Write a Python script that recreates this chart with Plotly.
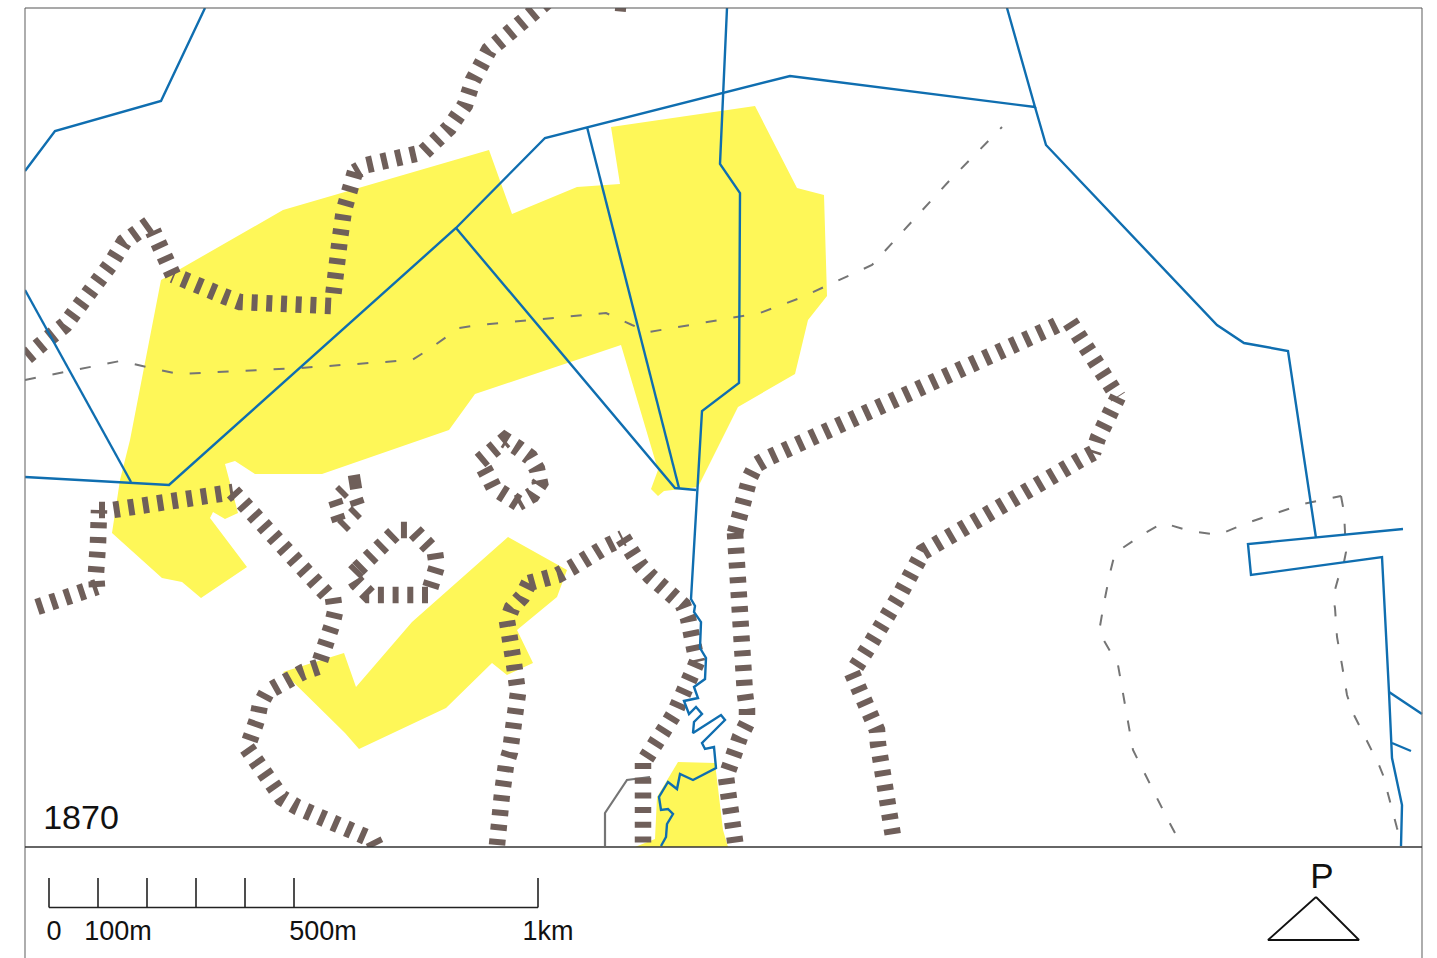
import plotly.graph_objects as go

# Map coordinates
meadow_a_x = [161,283,489,512,577,620,611,755,797,824,827,808,795,738,698,664,658,651,658,621,475,449,322,255,235,225,238,225,213,210,247,201,182,162,112,120,130]
meadow_a_y = [280,210,150,214,187,184,127,106,188,195,296,320,374,407,487,491,496,489,470,345,394,430,474,474,461,464,513,519,512,518,567,598,582,578,533,480,440]
meadow_b_x = [508,567,557,517,533,507,492,446,359,345,283,344,356,412]
meadow_b_y = [537,570,597,630,663,675,663,708,749,733,672,653,687,622]
meadow_c_x = [678,715,723,728,635,655,657]
meadow_c_y = [762,763,830,847,847,839,797]

water = [
    ([25,55,161,205], [171,131,101,8]),
    ([25,131], [290,482]),
    ([25,169,456,545,790,1035,1007], [477,485,228,138,76,107,8]),
    ([1035,1046,1217,1244,1288,1316], [107,145,325,343,351,538]),
    ([456,675,696], [228,488,490]),
    ([587,679], [127,488]),
    ([727,720,740,739,702,692,691,695,694,701,700,706,705,694,698,684,689,696,702,694,693,721,725,702,705,714,716,693,680,677,668,659,661,668,673,667,666,661],
     [8,164,193,383,411,580,599,606,612,622,648,658,679,687,698,701,714,707,714,722,733,715,720,743,749,747,768,780,774,789,782,797,810,809,814,824,837,846]),
    ([1403,1248,1251,1382,1389,1392,1402,1401], [529,544,575,557,692,758,805,846]),
    ([1389,1422], [692,714]),
    ([1392,1411], [743,751]),
]
track_x = [605,605,627,650]
track_y = [846,813,780,777]
path_1_x = [25,120,178,300,412,428,459,479,606,632,649,760,800,872,950,1002]
path_1_y = [380,361,374,368,360,350,328,325,313,325,332,313,298,265,180,127]
path_2_x = [1175,1168,1133,1128,1123,1118,1099,1104,1110,1115,1145,1163,1190,1218,1247,1303,1341]
path_2_y = [833,820,750,723,693,665,632,603,573,553,533,523,531,535,523,504,496]
path_3_x = [1341,1344,1346,1342,1338,1333,1335,1337,1342,1347,1353,1371,1379,1383,1390,1397,1400]
path_3_y = [496,512,552,572,579,597,608,637,665,695,713,748,765,775,803,828,838]

boundary = [
    ([546,532,510,489,473,465,449,436,424,367,355], [2,13,32,50,80,105,128,142,152,165,172]),
    ([355,346,344,340,336,333], [172,195,210,238,267,297]),
    ([331,314,240,226,173], [306,305,302,297,275]),
    ([173,167,161,153], [275,262,248,231]),
    ([149,124,110,89,77,65,44,25], [224,242,265,293,315,325,342,358]),
    ([37,80,97], [607,590,587]),
    ([97,96,98,100,99], [587,573,543,528,510]),
    ([99,113,233], [510,510,492]),
    ([233,242,330], [492,502,598]),
    ([333,335,332,327,322,318], [598,612,625,638,652,667]),
    ([318,303,267,260,257,253,247], [667,672,692,705,720,735,748]),
    ([247,258,267,275,282,297,373,378], [748,762,773,787,798,807,840,850]),
    ([480,493,505,518,530,537,540,532,518], [461,452,440,448,457,469,483,495,503]),
    ([518,507,494,488,480], [503,495,488,476,461]),
    ([358,368,377,388,398,413,425,435,437,432,428], [569,559,548,537,530,530,542,553,566,580,595]),
    ([428,411,396,382,369,357,352,358], [595,595,597,599,595,583,575,569]),
    ([497,498,502,506,510,514,518,514,509,507,512,522,529], [845,823,794,765,752,722,693,664,636,621,608,597,583]),
    ([529,543,558,571,582,594,607,623], [583,580,575,568,560,551,546,538]),
    ([623,631,640,650,661,672,683,688,691,693,697], [538,553,565,576,586,595,605,618,632,647,662]),
    ([697,692,688,683,674,666,658,651,643], [662,675,689,702,714,727,738,751,763]),
    ([643,643], [763,848]),
    ([735,736,736,737,738,740,742,743,745,747,747,740,735,729,726,728,731,733,735,736], [533,548,608,622,637,651,666,680,694,709,723,737,750,764,777,792,807,822,836,848]),
    ([735,738,744,746,750,756,768,1053,1063], [533,520,506,492,477,465,458,327,322]),
    ([1070,1079,1087,1095,1103,1110,1118], [322,335,347,360,373,385,397]),
    ([1118,1110,1103,1098,1093], [397,412,425,438,453]),
    ([1093,1080,923,913,905,898,868,861,852], [453,460,552,573,587,598,648,662,673]),
    ([852,858,863,872,877,878,880,883,885,887,889,892,893], [673,688,702,716,730,744,758,772,787,802,816,830,836]),
]
cross_stubs = [
    ([349,361], [483,481]),
    ([340,344], [494,490]),
    ([335,337], [500,506]),
    ([356,358], [499,505]),
    ([353,357], [515,511]),
    ([337,339], [515,521]),
    ([342,346], [527,523]),
]
top_fragment_x = [615,626]
top_fragment_y = [9,10]

year_label = "1870"
scale_ticks = [49,98,147,196,245,294,538]
scale_texts = ["0", "100m", "500m", "1km"]
scale_text_x = [54,118,323,548]
north_x = [1316,1268,1359,1316]
north_y = [897,940,940,897]

YELLOW = "#fef758"
BLUE = "#0f6eb0"
BROWN = "#6f5f5a"
GREY = "#757575"

fig = go.Figure()

def poly(x, y, color):
    fig.add_trace(go.Scatter(x=x, y=y, mode="lines", fill="toself", fillcolor=color,
                             line=dict(width=0, color=color), hoverinfo="skip"))

def line(x, y, color, width, dash="solid"):
    fig.add_trace(go.Scatter(x=x, y=y, mode="lines", hoverinfo="skip",
                             line=dict(color=color, width=width, dash=dash)))

poly(meadow_a_x, meadow_a_y, YELLOW)
poly(meadow_b_x, meadow_b_y, YELLOW)
poly(meadow_c_x, meadow_c_y, YELLOW)
line(track_x, track_y, GREY, 2.2)
for bx, by in boundary:
    line(bx, by, BROWN, 16.5, "6px,8.7px")
for sx, sy in cross_stubs:
    line(sx, sy, BROWN, 14)
line(top_fragment_x, top_fragment_y, BROWN, 4)
line(path_1_x, path_1_y, GREY, 2, "11px,17px")
line(path_2_x, path_2_y, GREY, 2, "11px,17px")
line(path_3_x, path_3_y, GREY, 2, "11px,17px")
for wx, wy in water:
    line(wx, wy, BLUE, 2.4)

# white outside the map panel hides thick line ends
poly([25,1422,1422,25], [847,847,958,958], "#ffffff")
poly([0,1437,1437,0], [0,0,8,8], "#ffffff")
poly([0,25,25,0], [0,0,958,958], "#ffffff")

# frame
line([25,25], [8,958], "#777777", 1.2)
line([1422,1422], [8,958], "#777777", 1.2)
line([25,1422], [8,8], "#555555", 1.2)
line([25,1422], [847,847], "#333333", 1.5)

# scale bar
line([scale_ticks[0], scale_ticks[-1]], [907.5,907.5], "#222222", 1.6)
for t in scale_ticks:
    line([t,t], [878,907.5], "#222222", 1.6)
fig.add_trace(go.Scatter(x=scale_text_x, y=[933]*4, mode="text", text=scale_texts,
                         textposition="middle center", hoverinfo="skip",
                         textfont=dict(family="Liberation Sans", size=27, color="#111111")))
fig.add_trace(go.Scatter(x=[81], y=[820], mode="text", text=[year_label],
                         textposition="middle center", hoverinfo="skip",
                         textfont=dict(family="Liberation Sans", size=34, color="#111111")))
fig.add_trace(go.Scatter(x=[1322], y=[879], mode="text", text=["P"],
                         textposition="middle center", hoverinfo="skip",
                         textfont=dict(family="Liberation Sans", size=35, color="#111111")))
line(north_x, north_y, "#111111", 1.8)

fig.update_layout(width=1437, height=958, margin=dict(l=0, r=0, t=0, b=0),
                  showlegend=False, plot_bgcolor="#ffffff", paper_bgcolor="#ffffff",
                  xaxis=dict(range=[0,1437], visible=False, fixedrange=True),
                  yaxis=dict(range=[958,0], visible=False, fixedrange=True))
fig.write_html("out.html", config={"displayModeBar": False},
               post_script="document.body.style.margin='0';document.body.style.overflow='hidden';")
